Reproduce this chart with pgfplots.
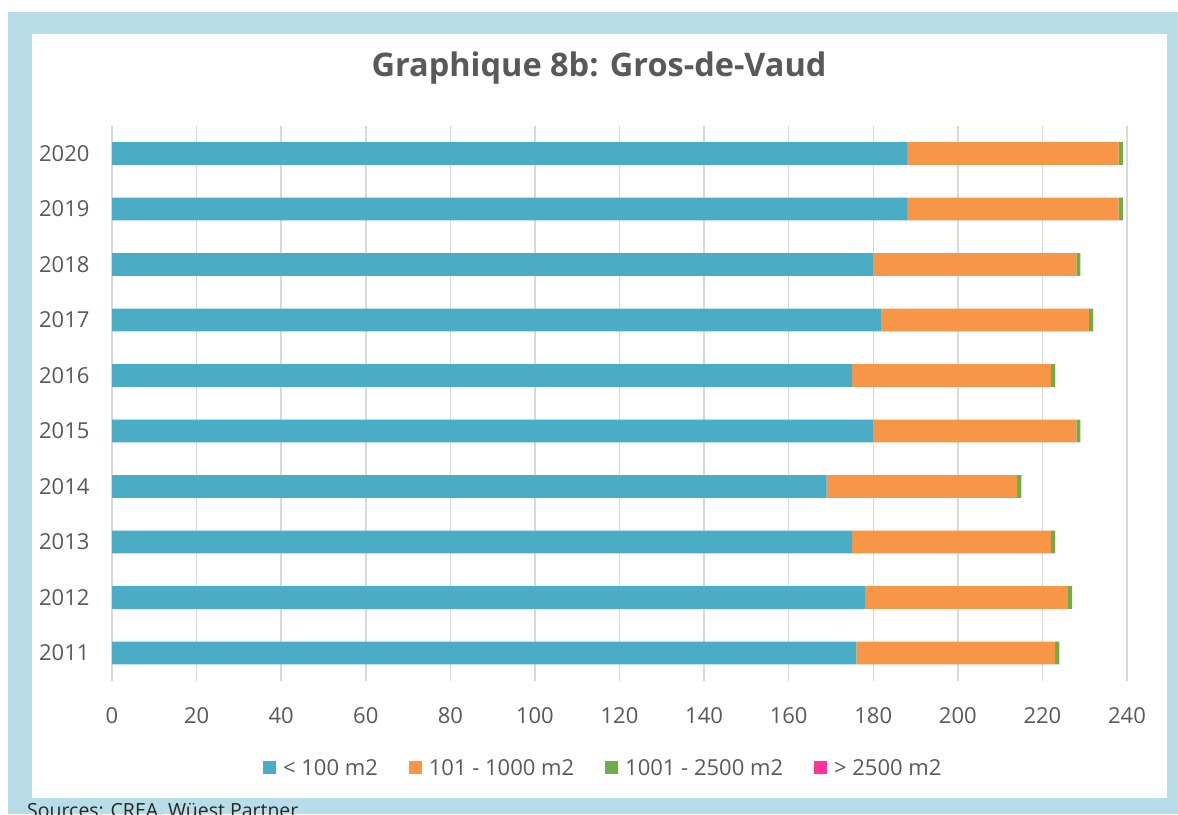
\documentclass[border=0pt]{standalone}
\usepackage{pgfplots}
\pgfplotsset{compat=1.18}
\usepackage{pgfplotstable}
\usepackage{fontspec}
\setmainfont{Open Sans}
\definecolor{cblue}{HTML}{4BACC6}
\definecolor{corange}{HTML}{F79646}
\definecolor{cgreen}{HTML}{70AD47}
\definecolor{cpink}{HTML}{FF3399}
\definecolor{framec}{HTML}{B7DEE8}
\definecolor{txt}{HTML}{595959}
\definecolor{gridc}{HTML}{D9D9D9}
\pgfplotstableread{
y a b c d
0 176 47 1 0
1 178 48 1 0
2 175 47 1 0
3 169 45 1 0
4 180 48 1 0
5 175 47 1 0
6 182 49 1 0
7 180 48 1 0
8 188 50 1 0
9 188 50 1 0
}\data
\begin{document}
\begin{tikzpicture}[x=1pt,y=1pt]
\useasboundingbox (0,0) rectangle (1178,814);
\begin{scope}
\clip (0,0) rectangle (1178,814);
\fill[white] (0,0) rectangle (1178,814);
\fill[framec] (8,0) rectangle (1178,802);
\fill[white] (32,16) rectangle (1167,780);
\node[anchor=base west, font=\fontsize{19.5}{24}\selectfont, text=black!85, inner sep=0pt] at (27,-3) {Sources: CREA, Wüest Partner};
\end{scope}
\node[anchor=base, font=\bfseries\fontsize{32.5}{38}\selectfont, text=txt, inner sep=0pt] at (599,737) {Graphique 8b: Gros-de-Vaud};
\begin{axis}[
  at={(112pt,133.25pt)}, anchor=south west,
  width=1015pt, height=555pt, scale only axis,
  xmin=0, xmax=240, ymin=-0.5, ymax=9.5,
  xtick={0,20,...,240}, ytick={0,...,9},
  yticklabels={2011,2012,2013,2014,2015,2016,2017,2018,2019,2020},
  xbar stacked, bar width=0.414,
  xmajorgrids, grid style={gridc, line width=1.5pt},
  axis line style={draw=none}, tick style={draw=none},
  ticklabel style={font=\fontsize{22}{26}\selectfont, text=txt},
  xticklabel style={yshift=-23pt},
  yticklabel style={xshift=-19pt},
  /pgf/number format/assume math mode=true,
  legend columns=4,
  legend style={draw=none, fill=none, at={(0.484,-0.157)}, anchor=center,
    font=\fontsize{22}{26}\selectfont, text=txt,
    /tikz/every odd column/.append style={column sep=5pt},
    /tikz/every even column/.append style={column sep=29pt}},
  legend image code/.code={\fill[#1] (0pt,-6.5pt) rectangle (13pt,6.5pt);},
]
\addplot[fill=cblue, draw=none] table[x=a, y=y] {\data};
\addplot[fill=corange, draw=none] table[x=b, y=y] {\data};
\addplot[fill=cgreen, draw=none] table[x=c, y=y] {\data};
\addplot[fill=cpink, draw=none] table[x=d, y=y] {\data};
\legend{< 100 m2, 101 - 1000 m2, 1001 - 2500 m2, > 2500 m2}
\end{axis}
\end{tikzpicture}
\end{document}
